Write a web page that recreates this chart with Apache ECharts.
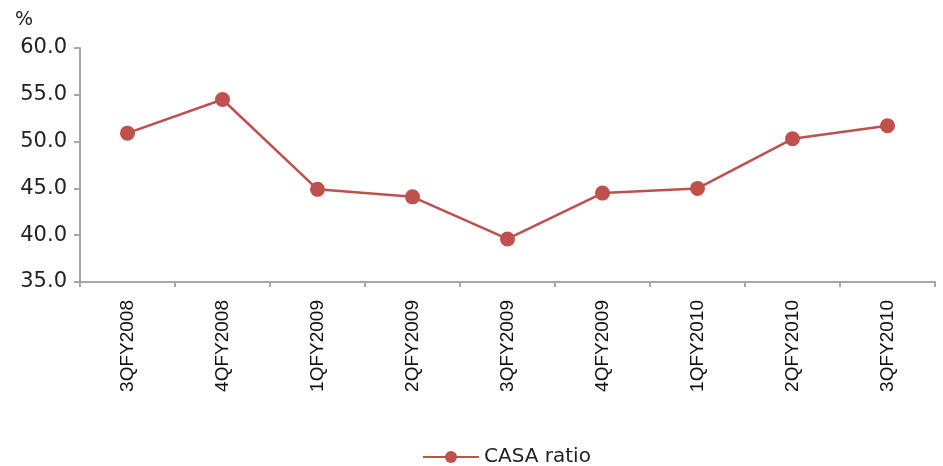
<!DOCTYPE html>
<html>
<head>
<meta charset="utf-8">
<script src="https://cdn.jsdelivr.net/npm/echarts@6/dist/echarts.min.js"></script>
<style>
  html, body { margin: 0; padding: 0; background: #fff; }
  #chart { width: 943px; height: 466px; }
</style>
</head>
<body>
<div id="chart"></div>
<script>
  // quarters on the x axis
  const quarters = ['3QFY2008', '4QFY2008', '1QFY2009', '2QFY2009', '3QFY2009',
                    '4QFY2009', '1QFY2010', '2QFY2010', '3QFY2010'];
  // CASA ratio, %
  const casaRatio = [50.9, 54.5, 44.9, 44.1, 39.6, 44.5, 45.0, 50.3, 51.7];

  const axisGrey = '#a6a6a6';
  const lineRed = '#c0504d';
  const font = '"DejaVu Sans", "Liberation Sans", sans-serif';

  const chart = echarts.init(document.getElementById('chart'), null, { renderer: 'canvas' });
  chart.setOption({
    animation: false,
    backgroundColor: '#fff',
    title: {
      text: '%',
      left: 10,
      top: 6,
      textStyle: { fontSize: 19, fontWeight: 'normal', color: '#222', fontFamily: font }
    },
    grid: { left: 80, right: 8, top: 48, bottom: 184, containLabel: false },
    legend: {
      top: 442,
      left: 417,
      itemWidth: 56,
      itemHeight: 15,
      itemGap: 10,
      textStyle: { fontSize: 20, color: '#222', fontFamily: font }
    },
    xAxis: {
      type: 'category',
      data: quarters,
      boundaryGap: true,
      axisLine: { lineStyle: { color: axisGrey, width: 2 } },
      axisTick: { show: true, length: 5, lineStyle: { color: axisGrey, width: 2 } },
      axisLabel: {
        rotate: 90,
        margin: 18,
        fontSize: 19,
        color: '#111',
        fontFamily: '"Liberation Sans", Arial, sans-serif'
      }
    },
    yAxis: {
      type: 'value',
      min: 35,
      max: 60,
      interval: 5,
      axisLine: { show: true, lineStyle: { color: axisGrey, width: 2 } },
      axisTick: { show: true, length: 6, lineStyle: { color: axisGrey, width: 2 } },
      splitLine: { show: false },
      axisLabel: {
        margin: 13,
        fontSize: 21,
        color: '#222',
        fontFamily: font,
        formatter: v => v.toFixed(1)
      }
    },
    series: [{
      name: 'CASA ratio',
      type: 'line',
      data: casaRatio,
      symbol: 'circle',
      symbolSize: 15,
      lineStyle: { color: lineRed, width: 2.5 },
      itemStyle: { color: lineRed }
    }]
  });
</script>
</body>
</html>
